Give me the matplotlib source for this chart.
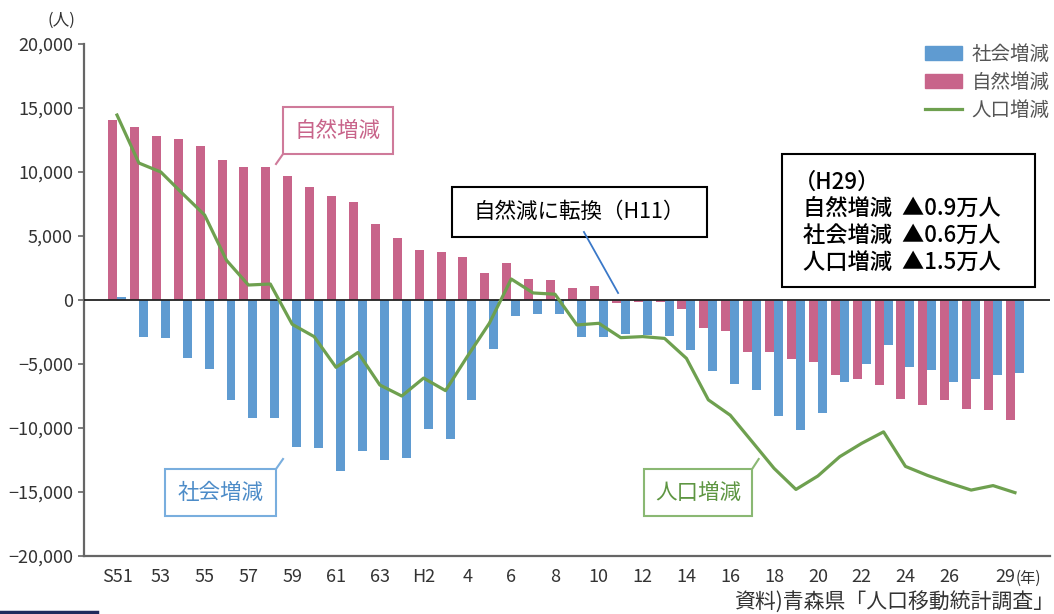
import numpy as np
import matplotlib.pyplot as plt
from matplotlib.patches import Rectangle, Patch
from matplotlib.lines import Line2D

plt.rcParams['font.family'] = ['Noto Sans CJK JP', 'DejaVu Sans']

# 年次 S51〜H29
tick_pos = list(range(0, 40, 2)) + [41]
tick_labels = ['S51', '53', '55', '57', '59', '61', '63', 'H2', '4', '6', '8',
               '10', '12', '14', '16', '18', '20', '22', '24', '26', '29']

# 自然増減（人）
natural = [14100, 13540, 12800, 12580, 12000, 10940, 10390, 10400, 9690, 8830,
           8130, 7680, 5910, 4840, 3930, 3730, 3390, 2130, 2860, 1610,
           1560, 910, 1090, -260, -150, -180, -730, -2160, -2400, -4060,
           -4060, -4600, -4870, -5830, -6200, -6670, -7700, -8200, -7800, -8500,
           -8600, -9400]
# 社会増減（人）
social = [250, -2900, -2950, -4500, -5400, -7800, -9250, -9200, -11500, -11600,
          -13360, -11770, -12500, -12340, -10050, -10860, -7800, -3830, -1250, -1060,
          -1080, -2920, -2920, -2630, -2730, -2810, -3900, -5550, -6600, -7060,
          -9100, -10160, -8800, -6380, -5000, -3540, -5260, -5470, -6400, -6200,
          -5830, -5700]
# 人口増減（人）
population = [14450, 10700, 10000, 8300, 6640, 3100, 1170, 1250, -1900, -2860,
              -5260, -4100, -6640, -7500, -6100, -7080, -4400, -1820, 1640, 550,
              450, -1950, -1820, -2940, -2860, -3000, -4560, -7800, -9000, -11070,
              -13150, -14800, -13750, -12240, -11200, -10300, -13000, -13700, -14300, -14850,
              -14500, -15050]

blue = '#5f9bd1'
pink = '#c8648a'
green = '#6ea04f'

W, H = 1054, 614
def fx(px):
    return px / W
def fy(py):
    return 1 - py / H

fig = plt.figure(figsize=(W / 100, H / 100), dpi=100)
ax = fig.add_axes([fx(84), fy(556), (1050 - 84) / W, (556 - 44) / H])

x = np.arange(len(natural))
ax.bar(x - 0.205, natural, 0.41, color=pink, zorder=2)
ax.bar(x + 0.205, social, 0.41, color=blue, zorder=2)
ax.axhline(0, color='#222222', lw=1.3, zorder=3)
ax.plot(x, population, color=green, lw=2.3, zorder=4)

ax.set_xlim(-1.507, 42.6)
ax.set_ylim(-20000, 20000)
yt = np.arange(-20000, 20001, 5000)
ax.set_yticks(yt)
ax.set_yticklabels([('−' if v < 0 else '') + f'{abs(v):,}' for v in yt])
ax.set_xticks(tick_pos)
ax.set_xticklabels(tick_labels)
last = ax.get_xticklabels()[-1]
last.set_horizontalalignment('right')

for s in ['top', 'right']:
    ax.spines[s].set_visible(False)
for s in ['left', 'bottom']:
    ax.spines[s].set_color('#666666')
    ax.spines[s].set_linewidth(1.6)
ax.tick_params(axis='y', direction='out', length=4, width=1.2, color='#666666',
               labelsize=13, labelcolor='#333333', pad=4)
ax.tick_params(axis='x', length=0, pad=9, labelsize=13, labelcolor='#333333')

fig.text(fx(61), fy(20), '(人)', ha='center', va='center', fontsize=12, color='#333333')
fig.text(fx(1016), fy(578), '(年)', ha='left', va='center', fontsize=11, color='#333333')
fig.text(fx(1054), fy(603), '資料)青森県「人口移動統計調査」', ha='right', va='center',
         fontsize=15, color='#333333')
fig.add_artist(Line2D([0, fx(97)], [fy(612), fy(612)], color='#1f2a5c', lw=2.5))

# 凡例
handles = [Patch(color=blue), Patch(color=pink), Line2D([], [], color=green, lw=2.3)]
ax.legend(handles, ['社会増減', '自然増減', '人口増減'], loc='upper left',
          bbox_to_anchor=(fx(925), fy(44)), bbox_transform=fig.transFigure,
          frameon=False, fontsize=14, handlelength=1.9, handleheight=0.75,
          labelspacing=0.35, handletextpad=0.5, borderpad=0, borderaxespad=0,
          labelcolor='#555555')

# 吹き出しラベル
def callout(x0, x1, y0, y1, text, color, tail, fontsize=15.5, tcolor=None):
    ax.add_patch(Rectangle((x0, y0), x1 - x0, y1 - y0, fc='white',
                           ec=color, lw=1.5, zorder=5, clip_on=False))
    ax.plot(tail[0], tail[1], color=color, lw=1.5, zorder=5, clip_on=False)
    ax.text((x0 + x1) / 2, (y0 + y1) / 2, text, ha='center', va='center',
            fontsize=fontsize, color=tcolor or color, zorder=6)

callout(7.58, 12.6, 11406, 15078, '自然増減', '#cf7a9a',
        ([7.58, 7.26], [11406, 10625]), tcolor=pink)
callout(2.19, 7.26, -16875, -13203, '社会増減', '#79aede',
        ([7.26, 7.58], [-13203, -12422]), tcolor='#4d8cc8')
callout(24.06, 29.0, -16875, -13203, '人口増減', '#8ab873',
        ([29.0, 29.3], [-13203, -12422]), tcolor='#5e9642')
callout(15.3, 26.94, 4922, 8828, '自然減に転換（H11）', 'black',
        ([21.32, 22.88], [5312, 547]), fontsize=15.5)
ax.lines[-1].set_color('#3a78c8')
ax.lines[-1].set_linewidth(1.3)

# H29 の値
ax.add_patch(Rectangle((30.37, 1016), 41.92 - 30.37, 11406 - 1016, fc='white',
                       ec='black', lw=1.5, zorder=5, clip_on=False))
h29_lines = ['（H29）', '自然増減  ▲0.9万人', '社会増減  ▲0.6万人', '人口増減  ▲1.5万人']
h29_y = [9219, 7188, 5078, 2969]
for i, t in enumerate(h29_lines):
    ax.text(31.3 if i else 30.9, h29_y[i], t, ha='left', va='center',
            fontsize=16, color='black', weight='medium', zorder=6)

fig.savefig('out.png', dpi=100)
